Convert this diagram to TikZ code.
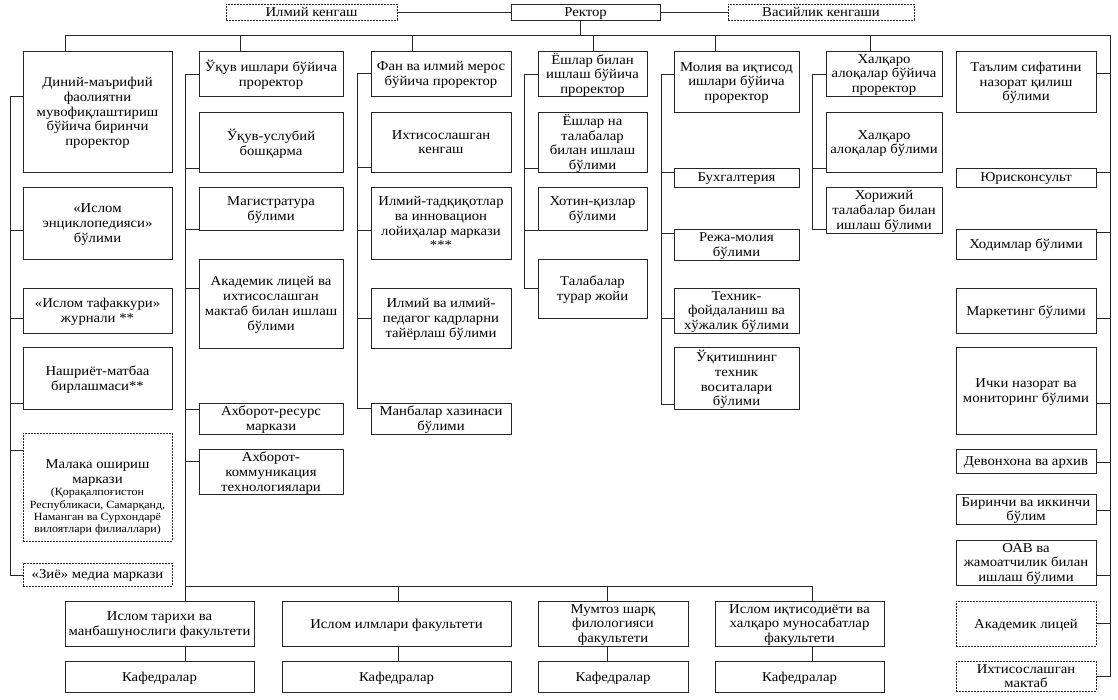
\documentclass[tikz,border=0pt]{standalone}
\usepackage{fontspec}
\setmainfont{Liberation Serif}[FakeStretch=1.09]
\newcommand\fs{\fontsize{13.5}{14.8}\selectfont}
\newcommand\sm{\fontsize{11}{12.4}\selectfont}
\newcommand\B[7][]{%
 \pgfmathsetmacro\Bw{#5-#3}\pgfmathsetmacro\Bh{#6-#4}%
 \pgfmathsetmacro\Bx{(#3+#5)/2}\pgfmathsetmacro\By{(#4+#6)/2}%
 \node[bx,#1,minimum width=\Bw pt,minimum height=\Bh pt] (#2) at (\Bx,\By) {#7};}
\begin{document}
\begin{tikzpicture}[x=1pt,y=-1pt,
  bx/.style={draw=black!85,line width=0.85pt,inner xsep=2pt,inner ysep=0pt,align=center,font=\fs,text=black,text depth=0pt},
  dsh/.style={dash pattern=on 1.6pt off 1.4pt},
  ln/.style={draw=black!85,line width=0.85pt}]
\useasboundingbox (0,0) rectangle (1118,699);
% top
\B[dsh]{ik0}{226}{4}{397}{20}{Илмий кенгаш}
\B{rk}{511}{4}{660}{20}{Ректор}
\B[dsh]{vk}{728}{4}{914}{20}{Васийлик кенгаши}
% column 1
\B{dn}{23}{51}{172}{172}{Диний-маърифий\\фаолиятни\\мувофиқлаштириш\\бўйича биринчи\\проректор}
\B{en}{23}{187}{172}{259}{«Ислом\\энциклопедияси»\\бўлими}
\B{tf}{23}{288}{172}{333}{«Ислом тафаккури»\\журнали **}
\B{nm}{23}{347}{172}{409}{Нашриёт-матбаа\\бирлашмаси**}
\B[dsh]{mk}{23}{433}{172}{541}{Малака ошириш\\маркази\\{\sm\begin{tabular}{@{}c@{}}(Қорақалпоғистон\\Республикаси, Самарқанд,\\Наманган ва Сурхондарё\\вилоятлари филиаллари)\end{tabular}}}
\B[dsh]{zm}{23}{563}{172}{586}{«Зиё» медиа маркази}
% column 2
\B{uk}{199}{51}{343}{96}{Ўқув ишлари бўйича\\проректор}
\B{uu}{199}{112}{343}{172}{Ўқув-услубий\\бошқарма}
\B{mg}{199}{187}{343}{230}{Магистратура\\бўлими}
\B{al}{199}{259}{343}{348}{Академик лицей ва\\ихтисослашган\\мактаб билан ишлаш\\бўлими}
\B{ar}{199}{403}{343}{434}{Ахборот-ресурс\\маркази}
\B{ak}{199}{449}{343}{494}{Ахборот-\\коммуникация\\технологиялари}
% column 3
\B{fn}{371}{51}{511}{96}{Фан ва илмий мерос\\бўйича проректор}
\B{ik}{371}{112}{511}{172}{Ихтисослашган\\кенгаш}
\B{it}{371}{187}{511}{259}{Илмий-тадқиқотлар\\ва инновацион\\лойиҳалар маркази\\***}
\B{ip}{371}{288}{511}{348}{Илмий ва илмий-\\педагог кадрларни\\тайёрлаш бўлими}
\B{mb}{371}{403}{511}{434}{Манбалар хазинаси\\бўлими}
% column 4
\B{ys}{538}{51}{647}{96}{Ёшлар билан\\ишлаш бўйича\\проректор}
\B{yt}{538}{112}{647}{172}{Ёшлар на\\талабалар\\билан ишлаш\\бўлими}
\B{xq}{538}{187}{647}{230}{Хотин-қизлар\\бўлими}
\B{tt}{538}{259}{647}{318}{Талабалар\\турар жойи}
% column 5
\B{ml}{674}{51}{799}{112}{Молия ва иқтисод\\ишлари бўйича\\проректор}
\B{bg}{674}{168}{799}{187}{Бухгалтерия}
\B{rm}{674}{229}{799}{260}{Режа-молия\\бўлими}
\B{tx}{674}{288}{799}{333}{Техник-\\фойдаланиш ва\\хўжалик бўлими}
\B{uq}{674}{347}{799}{409}{Ўқитишнинг\\техник\\воситалари\\бўлими}
% column 6
\B{xp}{826}{51}{942}{96}{Халқаро\\алоқалар бўйича\\проректор}
\B{xb}{826}{112}{942}{172}{Халқаро\\алоқалар бўлими}
\B{xt}{826}{187}{942}{233}{Хорижий\\талабалар билан\\ишлаш бўлими}
% column 7
\B{ts}{956}{51}{1096}{112}{Таълим сифатини\\назорат қилиш\\бўлими}
\B{yr}{956}{168}{1096}{187}{Юрисконсульт}
\B{xd}{956}{229}{1096}{259}{Ходимлар бўлими}
\B{mr}{956}{288}{1096}{333}{Маркетинг бўлими}
\B{in}{956}{347}{1096}{434}{Ички назорат ва\\мониторинг бўлими}
\B{dv}{956}{449}{1096}{473}{Девонхона ва архив}
\B{bi}{956}{494}{1096}{524}{Биринчи ва иккинчи\\бўлим}
\B{oa}{956}{540}{1096}{585}{ОАВ ва\\жамоатчилик билан\\ишлаш бўлими}
\B[dsh]{ac}{956}{601}{1096}{646}{Академик лицей}
\B[dsh]{im}{956}{661}{1096}{691}{Ихтисослашган\\мактаб}
% faculties
\B{f1}{65}{601}{254}{646}{Ислом тарихи ва\\манбашунослиги факультети}
\B{k1}{65}{661}{254}{692}{Кафедралар}
\B{f2}{282}{601}{511}{646}{Ислом илмлари факультети}
\B{k2}{282}{661}{511}{692}{Кафедралар}
\B{f3}{538}{601}{688}{646}{Мумтоз шарқ\\филологияси\\факультети}
\B{k3}{538}{661}{688}{692}{Кафедралар}
\B{f4}{715}{601}{884}{646}{Ислом иқтисодиёти ва\\халқаро муносабатлар\\факультети}
\B{k4}{715}{661}{884}{692}{Кафедралар}
% top connectors
\draw[ln] (ik0.east) -- (rk.west);
\draw[ln] (rk.east) -- (vk.west);
\coordinate (bus) at (580,35);
\draw[ln] (580,0 |- rk.south) -- (bus);
\draw[ln] (65,35) -- (1110,35) -- (1110,676) -- (im.east |- 0,676);
\foreach \x/\n in {65/dn,240/uk,412/fn,593/ys,715/ml,870/xp}
  \draw[ln] (\x,35) -- (\x,0 |- \n.north);
\foreach \y/\n in {73/ts,172/yr,232/xd,318/mr,403/in,462/dv,510/bi,575/oa,623/ac}
  \draw[ln] (1110,\y) -- (\n.east |- 0,\y);
% column 1
\draw[ln] (dn.west |- 0,96) -- (10,96) -- (10,575) -- (zm.west |- 0,575);
\foreach \y/\n in {230/en,318/tf,403/nm,450/mk}
  \draw[ln] (10,\y) -- (\n.west |- 0,\y);
% column 2
\draw[ln] (uk.west |- 0,74) -- (185,74) -- (185,0 |- f1.north);
\foreach \y/\n in {168/uu,229/mg,288/al,409/ar,461/ak}
  \draw[ln] (185,\y) -- (\n.west |- 0,\y);
% column 3
\draw[ln] (fn.west |- 0,73) -- (357,73) -- (357,408) -- (mb.west |- 0,408);
\foreach \y/\n in {167/ik,230/it,318/ip}
  \draw[ln] (357,\y) -- (\n.west |- 0,\y);
% column 4
\draw[ln] (ys.west |- 0,74) -- (524,74) -- (524,288) -- (tt.west |- 0,288);
\foreach \y/\n in {168/yt,230/xq}
  \draw[ln] (524,\y) -- (\n.west |- 0,\y);
% column 5
\draw[ln] (ml.west |- 0,74) -- (661,74) -- (661,404) -- (uq.west |- 0,404);
\foreach \y/\n in {172/bg,233/rm,318/tx}
  \draw[ln] (661,\y) -- (\n.west |- 0,\y);
% column 6
\draw[ln] (xp.west |- 0,74) -- (812,74) -- (812,229) -- (xt.west |- 0,229);
\draw[ln] (812,168) -- (xb.west |- 0,168);
% faculties
\draw[ln] (185,586) -- (812,586);
\foreach \x/\f/\k in {185/f1/k1,398/f2/k2,607/f3/k3,812/f4/k4}{
  \draw[ln] (\x,586) -- (\x,0 |- \f.north);
  \draw[ln] (\x,0 |- \f.south) -- (\x,0 |- \k.north);}
\end{tikzpicture}
\end{document}
